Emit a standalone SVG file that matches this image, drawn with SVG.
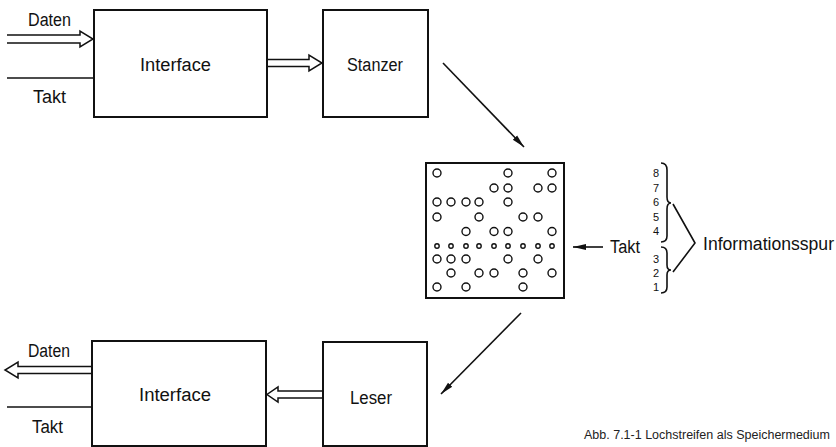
<svg xmlns="http://www.w3.org/2000/svg" width="836" height="447" viewBox="0 0 836 447">
<style>
.box{fill:#fff;stroke:#111;stroke-width:2}
.ln{fill:none;stroke:#111;stroke-width:1.6}
.hol{fill:none;stroke:#111;stroke-width:1.5;stroke-linejoin:miter}
.lbl{font-family:"Liberation Sans",Arial,sans-serif;font-size:18px;fill:#111}
.dig{font-family:"Liberation Sans",Arial,sans-serif;font-size:11px;fill:#111;text-anchor:middle}
.cap{font-family:"Liberation Sans",Arial,sans-serif;font-size:12.5px;fill:#222}
.h{fill:none;stroke:#111;stroke-width:1.4}
</style>
<defs>
<marker id="ah" markerWidth="14" markerHeight="8" refX="13" refY="4" orient="auto" markerUnits="userSpaceOnUse">
<path d="M0,1 L13,4 L0,7 Z" fill="#111"/>
</marker>
</defs>
<rect width="836" height="447" fill="#fff"/>

<g id="interface-top">
<rect class="box" x="94" y="10" width="173" height="107"/>
<text class="lbl" x="140" y="71" textLength="71" lengthAdjust="spacingAndGlyphs">Interface</text>
</g>
<g id="stanzer">
<rect class="box" x="323" y="10" width="105" height="107"/>
<text class="lbl" x="347" y="71" textLength="56" lengthAdjust="spacingAndGlyphs">Stanzer</text>
</g>
<g id="lochstreifen">
<rect class="box" x="426" y="163" width="138" height="135"/>
<g class="h">
<circle cx="437" cy="173" r="4"/><circle cx="508" cy="173" r="4"/><circle cx="552" cy="173" r="4"/>
<circle cx="494" cy="188" r="4"/><circle cx="508" cy="188" r="4"/><circle cx="538" cy="188" r="4"/><circle cx="552" cy="188" r="4"/>
<circle cx="437" cy="202" r="4"/><circle cx="451" cy="202" r="4"/><circle cx="466" cy="202" r="4"/><circle cx="479" cy="202" r="4"/><circle cx="508" cy="202" r="4"/>
<circle cx="437" cy="217" r="4"/><circle cx="479" cy="217" r="4"/><circle cx="523" cy="217" r="4"/><circle cx="538" cy="217" r="4"/>
<circle cx="466" cy="231.5" r="4"/><circle cx="494" cy="231.5" r="4"/><circle cx="508" cy="231.5" r="4"/><circle cx="552" cy="231.5" r="4"/>
<circle cx="437" cy="246" r="2.2"/><circle cx="451" cy="246" r="2.2"/><circle cx="466" cy="246" r="2.2"/><circle cx="479" cy="246" r="2.2"/><circle cx="494" cy="246" r="2.2"/><circle cx="508" cy="246" r="2.2"/><circle cx="523" cy="246" r="2.2"/><circle cx="538" cy="246" r="2.2"/><circle cx="552" cy="246" r="2.2"/>
<circle cx="437" cy="259" r="4"/><circle cx="451" cy="259" r="4"/><circle cx="466" cy="259" r="4"/><circle cx="508" cy="259" r="4"/><circle cx="538" cy="259" r="4"/>
<circle cx="451" cy="273" r="4"/><circle cx="479" cy="273" r="4"/><circle cx="494" cy="273" r="4"/><circle cx="523" cy="273" r="4"/><circle cx="552" cy="273" r="4"/>
<circle cx="437" cy="287" r="4"/><circle cx="466" cy="287" r="4"/><circle cx="523" cy="287" r="4"/>
</g>
</g>
<g id="interface-bottom">
<rect class="box" x="92" y="341" width="174" height="105"/>
<text class="lbl" x="139" y="401" textLength="72" lengthAdjust="spacingAndGlyphs">Interface</text>
</g>
<g id="leser">
<rect class="box" x="323" y="342" width="104" height="104"/>
<text class="lbl" x="350" y="404" textLength="42" lengthAdjust="spacingAndGlyphs">Leser</text>
</g>
<g id="spuren">
<text class="dig" x="656" y="177">8</text>
<text class="dig" x="656" y="192">7</text>
<text class="dig" x="656" y="206">6</text>
<text class="dig" x="656" y="221">5</text>
<text class="dig" x="656" y="235">4</text>
<text class="dig" x="656" y="263">3</text>
<text class="dig" x="656" y="277">2</text>
<text class="dig" x="656" y="291">1</text>
<path class="ln" d="M661,163 Q667,163 667,170 V197 Q667,203 671,203 Q667,203 667,209 V236 Q667,242 661,242"/>
<path class="ln" d="M661,247 Q667,247 667,253 V265 Q667,270 671,270 Q667,270 667,275 V287 Q667,293 661,293"/>
<path class="ln" d="M673,204 L695,243 L673,272"/>
<text class="lbl" x="703" y="250" textLength="131" lengthAdjust="spacingAndGlyphs">Informationsspur</text>
</g>

<g id="connectors">
<path class="hol" d="M7,35 H80 V31 L93,39 L80,47 V43 H7"/>
<line class="ln" x1="7" y1="78" x2="94" y2="78"/>
<path class="hol" d="M268,59.5 H309 V55 L322,63 L309,71 V66.5 H268"/>
<line class="ln" x1="443" y1="63" x2="524" y2="147" marker-end="url(#ah)"/>
<line class="ln" x1="603" y1="247" x2="573" y2="247" marker-end="url(#ah)"/>
<line class="ln" x1="521" y1="313" x2="441" y2="394" marker-end="url(#ah)"/>
<path class="hol" d="M323,391 H278 V387 L267,394.5 L278,402 V398 H323"/>
<path class="hol" d="M92,366.5 H18 V362 L5,370 L18,378 V373.5 H92"/>
<line class="ln" x1="7" y1="407" x2="92" y2="407"/>
</g>

<g id="labels">
<text class="lbl" x="28" y="26" textLength="43" lengthAdjust="spacingAndGlyphs">Daten</text>
<text class="lbl" x="33" y="103" textLength="33" lengthAdjust="spacingAndGlyphs">Takt</text>
<text class="lbl" x="610" y="253" textLength="30" lengthAdjust="spacingAndGlyphs">Takt</text>
<text class="lbl" x="28" y="357" textLength="42" lengthAdjust="spacingAndGlyphs">Daten</text>
<text class="lbl" x="32" y="433" textLength="31" lengthAdjust="spacingAndGlyphs">Takt</text>
<text class="cap" x="584" y="439">Abb. 7.1-1 Lochstreifen als Speichermedium</text>
</g>
</svg>
